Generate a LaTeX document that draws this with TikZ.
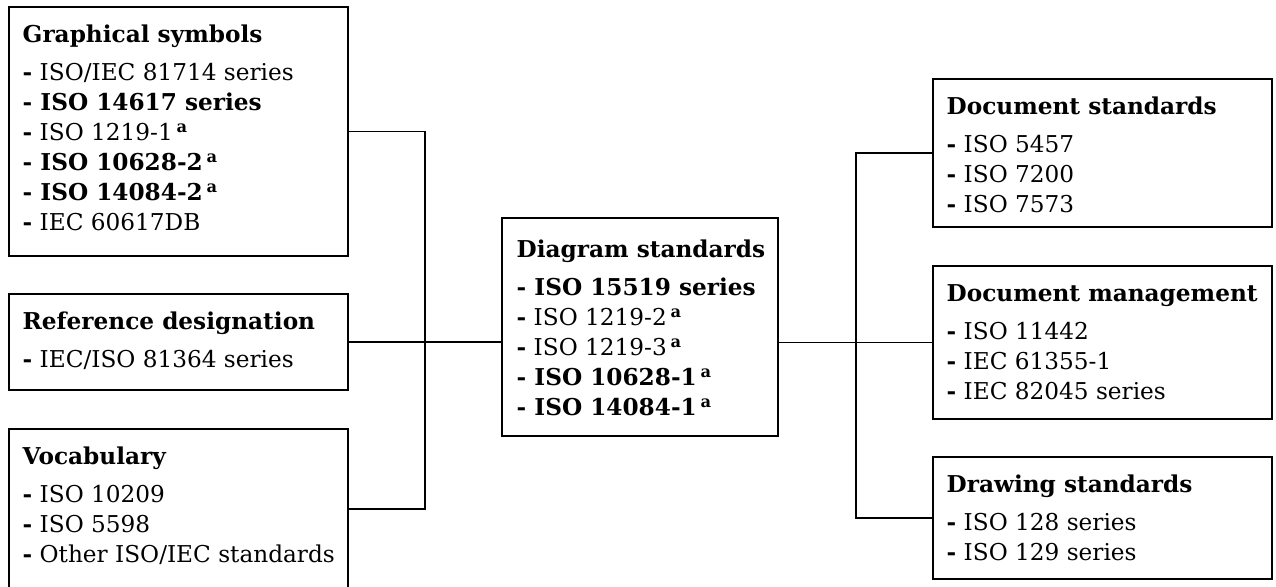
\documentclass[tikz,border=0pt]{standalone}
\usepackage{fontspec}
\setmainfont{DejaVu Serif}
\newcommand{\sa}{\,\textsuperscript{\bfseries a}}
\newcommand{\dd}{\textbf{-} }
\begin{document}
\begin{tikzpicture}[x=0.75pt,y=-0.75pt,
  box/.style={draw, line width=0.85pt, inner sep=0pt, minimum width=254.25pt},
  txt/.style={anchor=north west, inner sep=0pt, align=left, font=\fontsize{17.4}{22.5}\selectfont},
  conn/.style={line width=0.85pt}]
\useasboundingbox (0,0) rectangle (1276,586);
\node[box, minimum height=186.75pt] (gs) at (178.5,131.5) {};
\node[box, minimum height=72pt] (rd) at (178.5,342) {};
\node[box, minimum height=120pt] (voc) at (178.5,509) {};
\node[box, minimum width=207pt, minimum height=163.5pt] (dia) at (640,327) {};
\node[box, minimum height=111pt] (ds) at (1102.5,153) {};
\node[box, minimum height=114.75pt] (dm) at (1102.5,342.5) {};
\node[box, minimum height=91.5pt] (dr) at (1102.5,518) {};
\coordinate (jl) at (425,0);
\coordinate (jr) at (856,0);

\node[txt] (tgs) at ([shift={(14,16)}]gs.north west) {\rule{0pt}{15pt}\textbf{Graphical symbols}\\[6pt]
\dd ISO/IEC 81714 series\\
\textbf{- ISO 14617 series}\\
\dd ISO 1219-1\sa\\
\textbf{- ISO 10628-2}\sa\\
\textbf{- ISO 14084-2}\sa\\
\dd IEC 60617DB};
\node[txt] (trd) at ([shift={(14,16)}]rd.north west) {\rule{0pt}{15pt}\textbf{Reference designation}\\[6pt]
\dd IEC/ISO 81364 series};
\node[txt] (tvoc) at ([shift={(14,16)}]voc.north west) {\rule{0pt}{15pt}\textbf{Vocabulary}\\[6pt]
\dd ISO 10209\\
\dd ISO 5598\\
\dd Other ISO/IEC standards};
\node[txt] (tdia) at ([shift={(15,20)}]dia.north west) {\rule{0pt}{15pt}\textbf{Diagram standards}\\[6pt]
\textbf{- ISO 15519 series}\\
\dd ISO 1219-2\sa\\
\dd ISO 1219-3\sa\\
\textbf{- ISO 10628-1}\sa\\
\textbf{- ISO 14084-1}\sa};
\node[txt] (tds) at ([shift={(14,16)}]ds.north west) {\rule{0pt}{15pt}\textbf{Document standards}\\[6pt]
\dd ISO 5457\\
\dd ISO 7200\\
\dd ISO 7573};
\node[txt] (tdm) at ([shift={(14,16)}]dm.north west) {\rule{0pt}{15pt}\textbf{Document management}\\[6pt]
\dd ISO 11442\\
\dd IEC 61355-1\\
\dd IEC 82045 series};
\node[txt] (tdr) at ([shift={(14,16)}]dr.north west) {\rule{0pt}{15pt}\textbf{Drawing standards}\\[6pt]
\dd ISO 128 series\\
\dd ISO 129 series};

\draw[conn] (gs.east) -- (gs.east -| jl) -- (voc.east -| jl) -- (voc.east);
\draw[conn] (rd.east) -- (dia.west |- rd.east);
\draw[conn] (dia.east |- dm.west) -- (dm.west);
\draw[conn] (ds.west) -- (ds.west -| jr) -- (dr.west -| jr) -- (dr.west);
\end{tikzpicture}
\end{document}
